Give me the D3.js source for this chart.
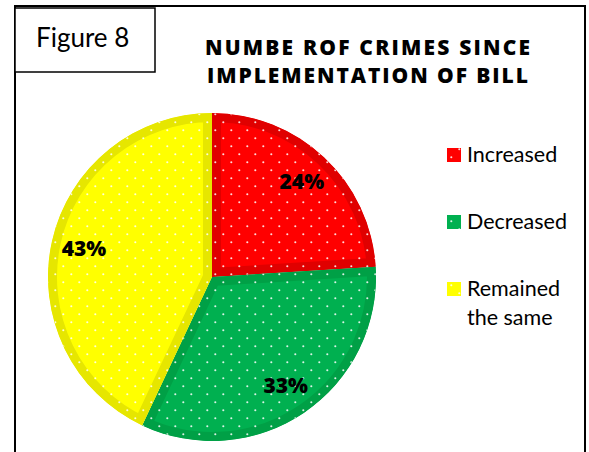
<!DOCTYPE html>
<html>
<head>
<meta charset="utf-8">
<script src="https://cdn.jsdelivr.net/npm/d3@7"></script>
<style>
  html, body { margin: 0; padding: 0; background: #fff; }
  svg { display: block; }
  text { font-family: Lato, "Open Sans", sans-serif; fill: #000; }
  text.bold { font-family: "Open Sans", "DejaVu Sans", sans-serif; font-weight: 800; }
</style>
</head>
<body>
<svg id="chart" width="589" height="452"></svg>
<script>
// Survey answers: change in the number of crimes since the bill took effect
const categories = ["Increased", "Decreased", "Remained the same"];
const shares = [24, 33, 43];               // percent of respondents
const titleLines = ["NUMBE ROF CRIMES SINCE", "IMPLEMENTATION OF BILL"];
const figureLabel = "Figure 8";

// fill (inner face) and bevel rim colour for each slice
const faceColors = ["#ff0000", "#00b050", "#ffff00"];
const rimColors  = ["#e00000", "#00a046", "#e6e600"];

const W = 589, H = 452;
const svg = d3.select("#chart");
const defs = svg.append("defs");

// white dotted pattern laid over every slice and legend key
const dots = defs.append("pattern")
  .attr("id", "dots")
  .attr("patternUnits", "userSpaceOnUse")
  .attr("width", 16).attr("height", 16);
[[3.3, 13.3], [11.3, 5.3]].forEach(([x, y]) => {
  dots.append("circle").attr("cx", x).attr("cy", y).attr("r", 1.05)
    .attr("fill", "#fff").attr("fill-opacity", 0.85);
});

// chart frame (bottom edge runs off the page)
svg.append("path")
  .attr("d", `M15,${H + 5} L15,6 L585,6 L585,${H + 5}`)
  .attr("fill", "none").attr("stroke", "#000").attr("stroke-width", 2);

// "Figure 8" tag box
svg.append("rect")
  .attr("x", 15).attr("y", 8).attr("width", 140).attr("height", 64)
  .attr("fill", "#fff").attr("stroke", "#000").attr("stroke-width", 1.5);
svg.append("text")
  .attr("x", 36).attr("y", 47)
  .attr("font-size", 26)
  .text(figureLabel);

// title, two centred bold lines
const titleWidths = [325, 321];
svg.append("g").selectAll("text")
  .data(titleLines)
  .join("text")
  .attr("class", "bold")
  .attr("x", 367.5)
  .attr("y", (d, i) => 55 + i * 28)
  .attr("text-anchor", "middle")
  .attr("font-size", 21)
  .attr("textLength", (d, i) => titleWidths[i])
  .attr("lengthAdjust", "spacing")
  .text(d => d);

// pie
const cx = 212, cy = 277, R = 164, rim = 9;
const pie = d3.pie().sort(null).value(d => d.value).startAngle(0).endAngle(2 * Math.PI);
const data = categories.map((c, i) => ({ name: c, value: shares[i], i }));
const arcs = pie(data);
const arc = d3.arc().innerRadius(0).outerRadius(R);
const labelArc = d3.arc().innerRadius(R * 0.8).outerRadius(R * 0.8);

// slices: face colour, rim drawn as a stroke clipped to the slice, dots on top
const gSlices = svg.append("g");
arcs.forEach((a, k) => {
  const id = "slice-clip-" + k;
  defs.append("clipPath").attr("id", id)
    .append("path")
    .attr("transform", `translate(${cx},${cy})`)
    .attr("d", arc(a));
  const slice = gSlices.append("g").attr("clip-path", `url(#${id})`);
  slice.append("path")
    .attr("transform", `translate(${cx},${cy})`)
    .attr("d", arc(a))
    .attr("fill", faceColors[k])
    .attr("stroke", rimColors[k])
    .attr("stroke-width", rim * 2)
    .attr("stroke-linejoin", "miter");
  slice.append("path")
    .attr("transform", `translate(${cx},${cy})`)
    .attr("d", arc(a))
    .attr("fill", "url(#dots)");
});

// percentage labels
const gPie = svg.append("g").attr("transform", `translate(${cx},${cy})`);
gPie.selectAll("text.pct")
  .data(arcs)
  .join("text")
  .attr("class", "pct bold")
  .attr("transform", d => `translate(${labelArc.centroid(d)})`)
  .attr("text-anchor", "middle")
  .attr("dy", "0.36em")
  .attr("font-size", 21)
  .text(d => d.data.value + "%");

// legend
const legend = svg.append("g");
const legendY = d3.scalePoint().domain(categories).range([148, 282]);
const maxTextWidth = 110;

categories.forEach((c, k) => {
  const y0 = legendY(c);
  legend.append("rect")
    .attr("x", 447).attr("y", y0).attr("width", 14).attr("height", 14)
    .attr("fill", faceColors[k]);
  legend.append("rect")
    .attr("x", 447).attr("y", y0).attr("width", 14).attr("height", 14)
    .attr("fill", "url(#dots)");

  // simple word wrap of the legend label
  const t = legend.append("text")
    .attr("x", 467).attr("y", y0 + 14)
    .attr("font-size", 21.5);
  const words = c.split(" ");
  let line = [];
  let ts = t.append("tspan").attr("x", 467).attr("dy", 0);
  words.forEach(w => {
    line.push(w);
    ts.text(line.join(" "));
    if (ts.node().getComputedTextLength() > maxTextWidth && line.length > 1) {
      line.pop();
      ts.text(line.join(" "));
      line = [w];
      ts = t.append("tspan").attr("x", 467).attr("dy", 29).text(w);
    }
  });
});
</script>
</body>
</html>
